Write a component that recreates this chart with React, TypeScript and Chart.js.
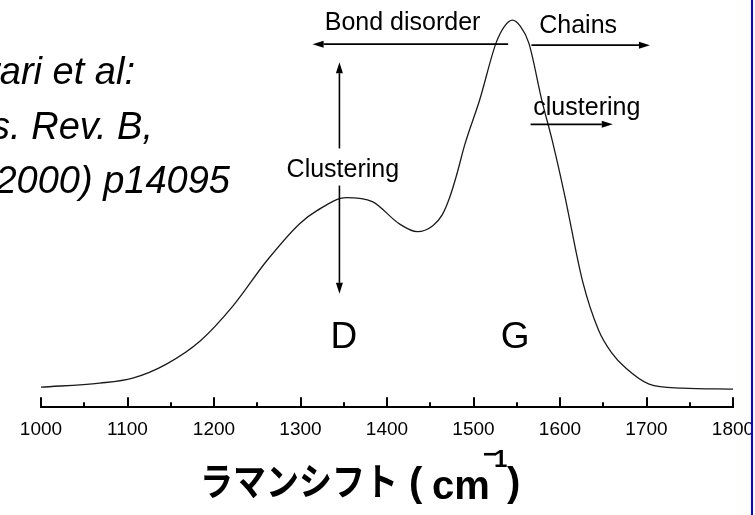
import React, { useEffect, useRef } from "react";
import { Chart, registerables } from "chart.js";

Chart.register(...registerables);

// ---- data ----
const wavenumbers = [
  1000, 1068, 1106, 1145, 1184, 1222, 1261, 1299, 1319, 1353, 1383, 1414, 1435,
  1453, 1464, 1472, 1480, 1490, 1507, 1526, 1536, 1545, 1554, 1564, 1579, 1591,
  1605, 1626, 1645, 1660, 1676, 1703, 1741, 1800,
];
const intensity = [
  20, 24, 29, 43, 66, 101, 146, 183, 196, 209, 205, 183, 175,
  181, 192, 208, 230, 262, 306, 363, 380, 386, 380, 363, 306, 266,
  213, 126, 76, 54, 39, 23, 19, 18,
];
const xMin = 1000;
const xMax = 1800;
const xStep = 100;

const citationLines = ["Ferrari et al:", "Phys. Rev. B,", "61(2000) p14095"];
const axisTitleKana = "ラマンシフト";
const axisTitleUnit = "cm";
const axisTitleExp = "1";

// annotations in data coordinates
const arrows = [
  { x1: 1345, y1: 258, x2: 1345, y2: 344 },
  { x1: 1345, y1: 221, x2: 1345, y2: 113 },
  { x1: 1540, y1: 362, x2: 1314, y2: 362 },
  { x1: 1567, y1: 361, x2: 1704, y2: 361 },
  { x1: 1566, y1: 282, x2: 1661, y2: 282 },
];
const annotationLabels = [
  { text: "Bond disorder", x: 1418, y: 376, size: 25 },
  { text: "Chains", x: 1621, y: 373, size: 25 },
  { text: "clustering", x: 1631, y: 291, size: 25 },
  { text: "Clustering", x: 1349, y: 230, size: 25 },
  { text: "D", x: 1350, y: 59, size: 37 },
  { text: "G", x: 1548, y: 59, size: 37 },
];

const decorPlugin = {
  id: "decor",
  afterDraw(chart: any) {
    const ctx = chart.ctx as CanvasRenderingContext2D;
    const xs = chart.scales.x;
    const ys = chart.scales.y;
    const area = chart.chartArea;
    ctx.save();

    // inward tick marks
    ctx.strokeStyle = "#000";
    ctx.lineWidth = 2;
    for (let v = xMin; v <= xMax; v += xStep / 2) {
      const px = Math.round(xs.getPixelForValue(v));
      const major = (v - xMin) % xStep === 0;
      const len = major ? 10 : 5;
      ctx.beginPath();
      ctx.moveTo(px, area.bottom);
      ctx.lineTo(px, area.bottom - len);
      ctx.stroke();
    }

    // arrows
    ctx.lineWidth = 1.6;
    ctx.fillStyle = "#000";
    for (const a of arrows) {
      const x1 = xs.getPixelForValue(a.x1);
      const y1 = ys.getPixelForValue(a.y1);
      const x2 = xs.getPixelForValue(a.x2);
      const y2 = ys.getPixelForValue(a.y2);
      const ang = Math.atan2(y2 - y1, x2 - x1);
      const hl = 11;
      const hw = 3.5;
      const bx = x2 - hl * Math.cos(ang);
      const by = y2 - hl * Math.sin(ang);
      ctx.beginPath();
      ctx.moveTo(x1, y1);
      ctx.lineTo(bx, by);
      ctx.stroke();
      ctx.beginPath();
      ctx.moveTo(x2, y2);
      ctx.lineTo(bx + hw * Math.sin(ang), by - hw * Math.cos(ang));
      ctx.lineTo(bx - hw * Math.sin(ang), by + hw * Math.cos(ang));
      ctx.closePath();
      ctx.fill();
    }

    // annotation labels
    ctx.textAlign = "center";
    ctx.textBaseline = "alphabetic";
    for (const l of annotationLabels) {
      ctx.font = `${l.size}px "Liberation Sans", Arial, sans-serif`;
      ctx.fillText(l.text, xs.getPixelForValue(l.x), ys.getPixelForValue(l.y));
    }

    // citation (cut at the left edge)
    ctx.font = `italic 38px "Liberation Sans", Arial, sans-serif`;
    ctx.textAlign = "right";
    const citeEnds = [135, 153, 230];
    const citeBase = [84, 139, 193];
    citationLines.forEach((t, i) => ctx.fillText(t, citeEnds[i], citeBase[i]));

    // axis title
    ctx.textAlign = "left";
    ctx.save();
    ctx.translate(200, 481);
    ctx.scale(1, 1.15);
    ctx.font = `bold 33px "Noto Sans CJK JP", sans-serif`;
    ctx.textBaseline = "middle";
    ctx.fillText(axisTitleKana, 0, 0);
    ctx.restore();
    ctx.textBaseline = "alphabetic";
    ctx.font = `bold 40px "Liberation Sans", Arial, sans-serif`;
    ctx.fillText("(", 409, 496);
    ctx.fillText(")", 507, 496);
    ctx.font = `bold 40px "Liberation Sans", Arial, sans-serif`;
    ctx.fillText(axisTitleUnit, 432, 499);
    ctx.font = `bold 24px "Liberation Sans", Arial, sans-serif`;
    ctx.fillText("\u2212", 483, 462);
    ctx.fillText(axisTitleExp, 494, 467);

    // right frame line
    ctx.fillStyle = "#ffffff";
    ctx.fillRect(753, 0, 2, chart.height);
    ctx.fillStyle = "#0000ff";
    ctx.fillRect(751, 0, 2, chart.height);
    ctx.restore();
  },
};

export default function App() {
  const ref = useRef<HTMLCanvasElement | null>(null);
  useEffect(() => {
    if (!ref.current) return;
    const chart = new Chart(ref.current, {
      type: "line",
      data: {
        datasets: [
          {
            data: wavenumbers.map((w, i) => ({ x: w, y: intensity[i] })),
            borderColor: "#1a1a1a",
            borderWidth: 1.3,
            pointRadius: 0,
            fill: false,
            cubicInterpolationMode: "monotone",
          },
        ],
      },
      options: {
        animation: false,
        responsive: false,
        devicePixelRatio: 1,
        layout: { padding: { left: 41, right: 22, top: 0, bottom: 63 } },
        plugins: { legend: { display: false }, tooltip: { enabled: false } },
        scales: {
          x: {
            type: "linear",
            min: xMin,
            max: xMax,
            ticks: {
              stepSize: xStep,
              color: "#000",
              padding: 11,
              font: { family: "'Liberation Sans', Arial, sans-serif", size: 19 },
              callback: (v: any) => String(v),
              maxRotation: 0,
            },
            grid: { drawOnChartArea: false, drawTicks: false },
            border: { display: true, color: "#000", width: 2 },
            afterFit: (scale: any) => {
              scale.paddingLeft = 0;
              scale.paddingRight = 0;
            },
          },
          y: { display: false, min: 0, max: 406 },
        },
      },
      plugins: [decorPlugin],
    } as any);
    return () => chart.destroy();
  }, []);
  return (
    <div style={{ position: "absolute", left: 0, top: 0, width: 755, height: 515, background: "#fff", overflow: "hidden" }}>
      <canvas ref={ref} width={755} height={515} style={{ display: "block" }} />
    </div>
  );
}
